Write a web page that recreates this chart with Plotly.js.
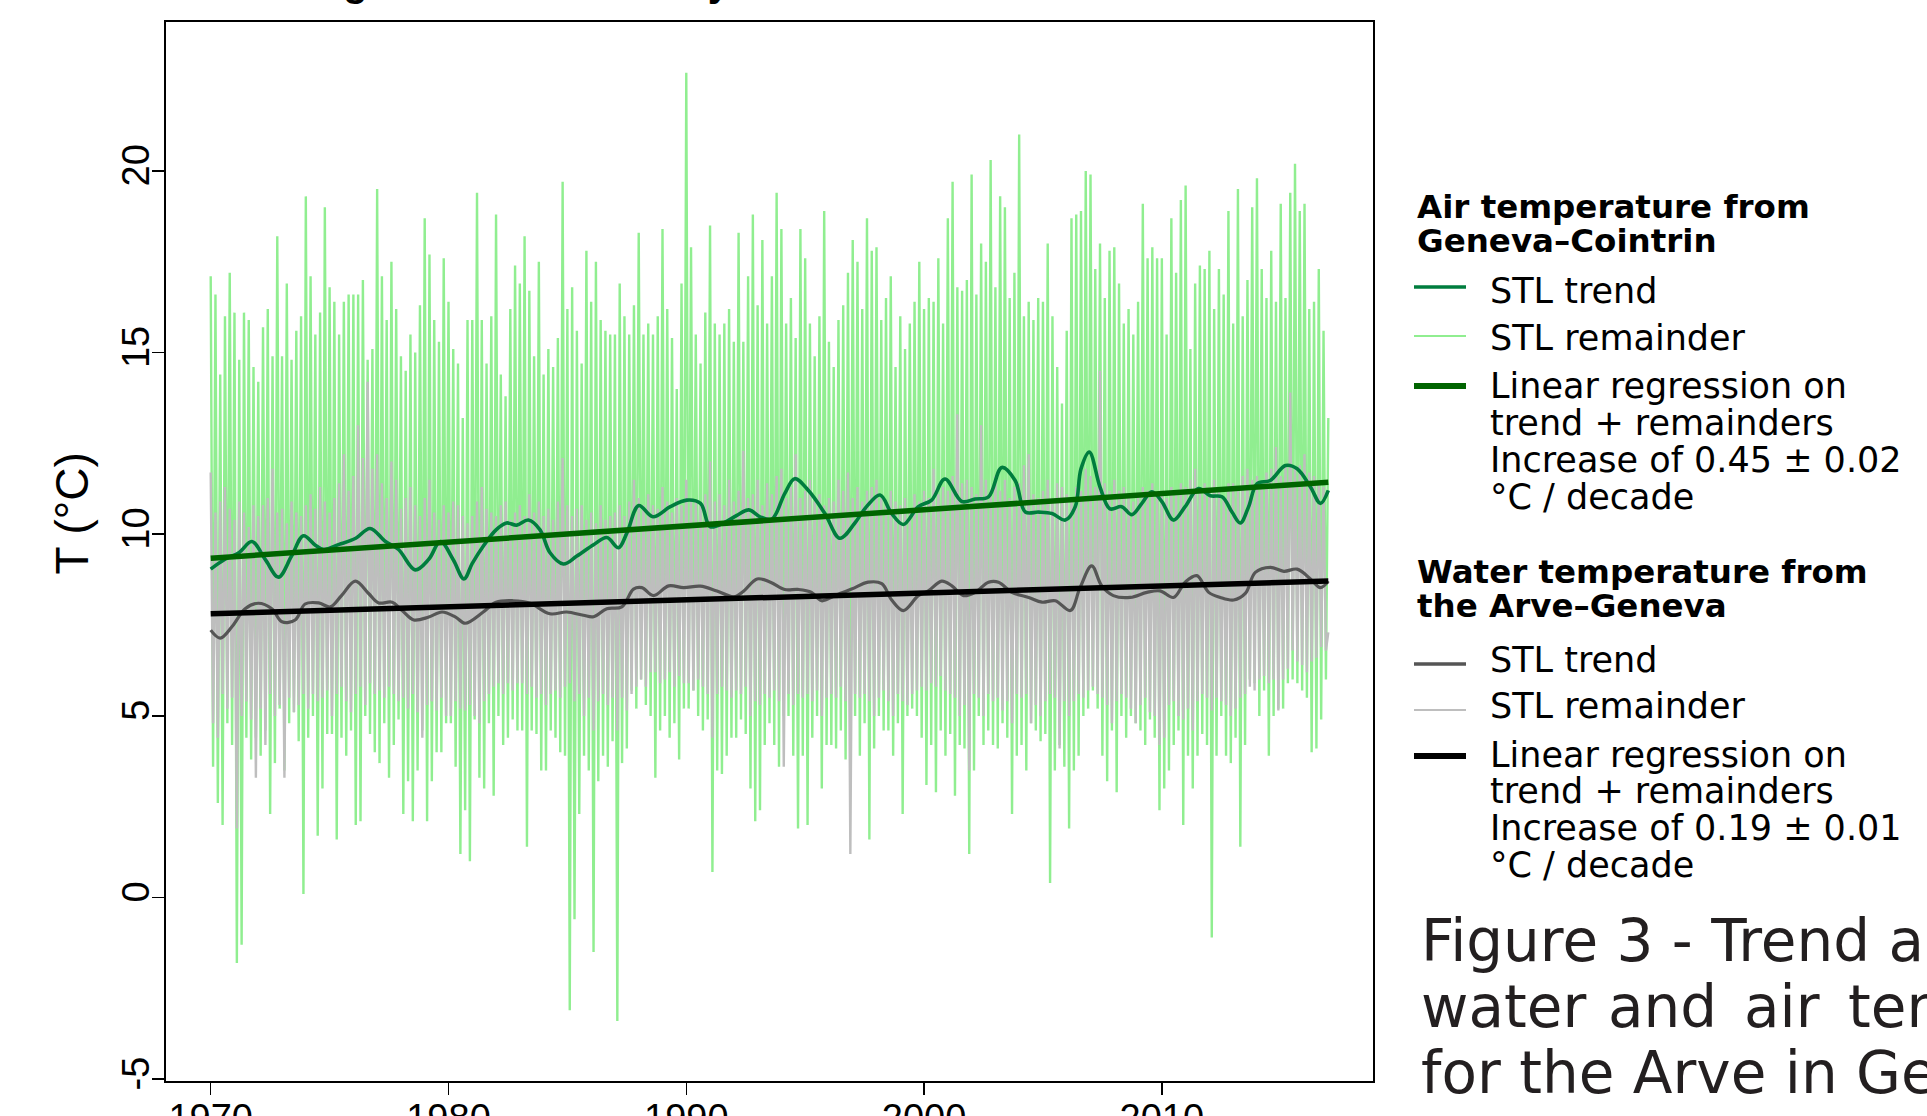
<!DOCTYPE html>
<html><head><meta charset="utf-8">
<script src="https://cdn.plot.ly/plotly-3.0.1.min.js"></script>
<style>html,body{margin:0;padding:0;overflow:hidden;background:#fff}#chart{width:1927px;height:1116px}</style>
</head><body><div id="chart"></div>
<script>
// ---- data ----
const remainderStart = 1970;   // first sample (year)
const remainderStep = 0.1;     // years between samples
const airRemainder = [
17.1,3.6,16.6,2.6,14.4,2.0,16.0,4.8,17.2,4.2,
16.1,-1.8,14.8,-1.3,16.1,4.4,15.9,3.8,14.6,4.4,
14.2,3.9,15.7,4.6,16.2,2.3,14.9,3.7,18.2,5.2,
14.9,3.5,16.9,4.8,14.8,5.1,15.6,4.3,16.0,0.1,
19.3,4.4,17.1,5.0,15.5,1.7,16.1,3.0,19.0,4.5,
16.8,4.5,16.4,1.6,15.5,4.4,16.4,3.9,16.6,4.6,
16.6,2.0,16.6,2.1,17.0,5.0,14.8,4.5,15.1,4.0,
19.5,3.7,17.1,4.8,15.9,3.3,17.5,4.2,16.2,4.9,
14.9,2.3,14.5,3.2,15.5,2.1,15.0,3.5,16.3,4.6,
18.7,2.1,17.7,3.2,15.9,4.0,15.3,4.0,17.6,4.8,
16.4,4.8,15.1,3.6,14.7,1.2,13.2,2.4,15.9,1.0,
15.9,4.9,19.4,3.3,15.9,3.0,14.7,4.8,16.0,2.8,
18.8,5.0,14.4,4.2,13.8,4.4,16.2,4.9,17.4,4.6,
16.9,4.6,18.2,1.4,16.7,4.6,14.9,4.5,17.5,3.5,
14.4,3.5,15.1,4.6,14.6,4.4,15.4,4.0,19.7,3.9,
16.2,-3.1,16.8,-0.6,15.6,2.3,14.7,3.9,17.8,3.5,
16.4,-1.5,17.5,3.2,15.9,3.9,15.6,3.6,15.5,4.3,
15.5,-3.4,16.9,3.7,16.0,4.1,15.5,5.7,16.3,5.2,
18.3,6.0,15.5,5.3,15.8,5.0,15.5,3.3,16.0,4.6,
18.4,5.0,16.2,4.4,15.4,4.8,14.0,3.8,16.9,5.2,
22.7,5.2,17.9,5.7,15.5,5.0,14.7,4.6,16.1,4.9,
18.5,0.7,15.8,3.5,15.5,3.4,15.8,3.9,16.2,4.4,
15.3,4.4,18.3,4.9,15.3,4.5,17.1,3.0,18.8,2.1,
16.3,2.4,18.1,4.2,15.8,4.8,17.1,4.2,19.4,3.6,
18.4,5.0,15.8,5.0,16.5,3.9,15.4,1.9,18.4,3.9,
17.6,2.0,15.8,4.4,14.9,5.0,16.0,3.0,18.9,4.2,
15.3,4.2,14.6,4.1,15.9,4.6,16.3,3.8,17.2,4.0,
18.1,5.0,17.5,3.9,16.2,4.8,18.7,1.6,17.8,4.1,
17.9,5.0,15.9,4.6,16.5,4.6,17.1,3.9,14.6,4.8,
16.0,2.3,15.1,5.0,15.8,5.2,16.4,5.0,17.5,4.4,
16.2,3.1,16.5,4.2,16.4,2.9,17.6,4.6,15.8,3.9,
18.7,4.5,19.7,2.8,16.8,4.2,16.7,4.1,17.0,1.2,
19.9,3.5,16.6,5.0,18.0,4.2,17.5,4.6,20.3,4.2,
16.8,4.1,19.3,4.8,19.0,4.4,16.5,2.3,17.2,3.9,
21.0,4.2,16.0,3.5,16.4,4.8,15.9,4.6,16.5,4.3,
16.4,4.5,18.0,0.4,16.0,3.5,14.6,4.2,13.6,3.6,
15.6,1.9,18.7,3.5,18.8,3.9,18.9,5.0,20.0,5.2,
19.9,5.7,17.3,5.2,18.0,3.9,16.5,3.2,17.8,4.6,
17.9,2.9,16.9,5.0,15.8,4.4,16.2,5.0,15.5,4.8,
16.4,4.6,19.1,4.2,17.6,4.9,17.9,4.4,17.6,2.4,
17.6,3.0,15.5,3.5,18.7,4.2,17.2,4.6,19.2,2.0,
19.6,3.9,15.1,3.0,16.9,3.9,17.4,4.5,17.3,4.2,
17.8,-1.1,16.2,3.9,17.3,5.0,16.6,3.9,18.9,3.7,
15.8,4.4,19.5,1.4,16.0,4.2,17.0,6.0,19.0,5.9,
19.8,5.0,17.3,5.7,16.5,3.9,17.8,5.0,16.4,5.2,
19.1,5.2,16.5,5.9,19.4,6.0,20.2,5.9,18.9,5.7,
19.1,5.5,16.2,4.0,16.4,4.1,17.3,4.9,15.6,6.0,
13.2];
const waterRemainder = [
11.7,4.8,10.6,4.4,10.9,5.6,11.3,5.2,10.7,5.5,
10.4,1.9,10.9,5.0,10.6,5.4,10.2,4.9,10.8,3.3,
10.5,5.2,10.8,4.2,11.0,5.6,11.8,5.0,10.6,5.3,
10.7,3.3,10.3,5.5,10.9,5.1,10.6,5.3,10.5,5.6,
10.8,5.2,11.1,5.6,10.7,5.4,11.3,5.5,10.9,5.7,
10.6,5.0,11.0,5.6,11.4,5.8,12.2,5.4,11.2,5.1,
11.6,5.6,13.0,5.8,12.1,5.3,14.2,5.9,11.8,5.6,
12.2,5.7,11.4,5.5,11.0,5.8,12.0,5.6,11.5,5.4,
10.7,5.5,11.0,5.2,11.3,5.6,10.8,5.1,10.5,4.4,
11.0,5.3,11.5,5.4,10.6,5.15,10.4,5.5,10.8,5.0,
10.6,5.0,10.9,5.4,10.8,5.2,10.5,5.15,10.3,5.3,
10.5,5.0,10.9,4.8,11.3,5.4,10.7,5.6,10.6,5.8,
10.5,5.9,10.8,5.6,10.9,5.9,10.4,5.7,10.6,5.9,
10.8,5.9,10.5,5.6,11.1,5.8,10.6,5.5,10.9,5.6,
10.5,5.3,10.7,5.6,10.4,5.7,10.9,5.5,12.1,5.8,
10.8,5.9,10.5,5.4,10.7,5.6,10.8,5.0,10.4,5.5,
10.6,4.6,10.3,5.4,10.8,5.6,10.4,5.3,10.5,5.5,
10.6,4.6,10.8,5.5,10.5,5.15,10.9,5.6,11.5,5.8,
11.0,6.0,10.8,5.8,11.1,6.2,10.8,6.2,10.7,5.9,
11.3,6.0,10.9,6.2,10.6,5.8,11.0,6.1,10.8,5.9,
11.5,5.9,11.0,5.7,10.9,6.0,10.8,5.8,11.1,5.6,
12.0,4.4,10.9,5.6,11.1,5.8,10.8,5.7,11.5,5.5,
10.9,5.7,11.2,5.6,12.3,5.8,11.0,5.0,11.1,5.4,
11.5,5.3,10.8,5.6,11.4,5.5,11.1,5.7,11.6,5.4,
11.8,3.6,11.0,5.6,11.3,5.3,12.2,5.6,11.0,5.5,
11.2,5.6,11.5,5.4,10.9,5.7,11.1,5.0,10.8,5.5,
11.0,5.6,10.9,5.5,11.5,5.8,11.2,5.4,11.7,1.2,
11.0,5.6,11.3,5.5,10.9,5.6,11.2,5.4,11.3,5.0,
11.5,5.5,11.0,5.7,10.8,5.4,11.2,5.0,10.9,5.6,
10.8,5.4,11.0,5.3,10.6,5.6,11.1,5.7,10.9,5.8,
11.2,5.7,11.0,5.9,11.8,5.8,11.1,6.1,11.3,5.7,
11.2,5.6,11.6,5.5,13.3,5.0,11.4,5.3,11.5,3.5,
11.3,5.6,11.1,5.5,13.0,5.0,11.5,5.6,11.2,5.4,
11.6,5.5,11.2,5.15,11.5,5.4,11.0,4.8,11.3,5.6,
11.4,5.5,11.9,5.6,12.2,4.8,11.1,5.3,11.0,5.0,
11.2,5.4,11.5,5.6,11.0,5.5,11.4,4.1,11.3,5.4,
11.1,5.0,11.0,5.4,11.3,5.6,11.2,5.5,11.8,5.7,
11.6,5.8,11.3,5.6,14.5,5.5,11.4,5.3,11.2,4.8,
11.5,5.4,11.2,5.6,11.3,5.5,11.0,5.2,10.9,4.8,
11.0,5.3,11.3,5.5,11.2,5.1,11.4,5.0,11.1,4.2,
11.2,4.4,11.0,5.3,11.3,5.4,11.1,5.0,11.4,4.9,
11.3,5.2,11.5,4.6,11.8,5.4,11.2,5.6,11.4,5.5,
11.3,5.15,11.5,5.5,11.2,5.4,11.0,5.3,11.4,5.0,
11.4,5.2,11.2,5.5,11.6,5.6,11.8,5.8,11.5,5.7,
11.6,6.0,11.4,6.1,11.7,5.9,11.8,6.0,12.4,5.15,
11.6,6.0,11.9,6.3,13.9,6.8,11.8,6.5,11.9,6.4,
12.2,6.2,11.7,6.5,11.6,6.6,11.5,6.9,11.3,6.8,
7.3];
const airTrendYears = [1970.0,1970.6,1971.2,1971.73,1972.3,1972.85,1973.4,1973.9,1974.4,1974.75,1975.4,1976.1,1976.7,1977.35,1977.9,1978.6,1979.17,1979.66,1980.2,1980.65,1981.0,1981.46,1982.0,1982.44,1982.87,1983.36,1983.85,1984.27,1984.83,1985.4,1986.1,1986.66,1987.15,1987.5,1988.0,1988.6,1989.33,1990.03,1990.6,1991.0,1991.57,1992.13,1992.63,1993.1,1993.6,1994.14,1994.56,1995.13,1995.83,1996.46,1997.09,1997.58,1998.15,1998.64,1999.13,1999.76,2000.32,2000.88,2001.59,2002.15,2002.71,2003.27,2003.83,2004.26,2004.82,2005.38,2005.94,2006.36,2006.6,2006.95,2007.4,2007.82,2008.31,2008.74,2009.16,2009.58,2010.0,2010.49,2010.98,2011.54,2012.04,2012.53,2012.95,2013.3,2013.65,2014.0,2014.56,2015.2,2015.69,2016.25,2016.67,2017.0];
const airTrend = [9.04,9.31,9.50,9.80,9.30,8.82,9.40,9.96,9.70,9.58,9.72,9.89,10.16,9.80,9.58,9.02,9.31,9.80,9.30,8.77,9.20,9.67,10.12,10.31,10.25,10.39,10.12,9.49,9.18,9.40,9.71,9.91,9.63,10.03,10.79,10.48,10.76,10.94,10.85,10.21,10.31,10.52,10.67,10.48,10.42,11.12,11.53,11.21,10.57,9.89,10.31,10.76,11.08,10.57,10.27,10.76,10.94,11.52,10.90,10.97,11.03,11.84,11.48,10.61,10.61,10.57,10.39,10.76,11.80,12.26,11.30,10.70,10.76,10.54,10.85,11.17,10.90,10.39,10.76,11.26,11.06,11.03,10.61,10.31,10.76,11.39,11.48,11.89,11.80,11.30,10.85,11.21];
const waterTrendYears = [1970.0,1970.4,1970.9,1971.45,1972.0,1972.57,1973.0,1973.55,1973.97,1974.54,1975.03,1975.5,1976.08,1976.64,1977.06,1977.63,1978.05,1978.54,1979.17,1979.73,1980.3,1980.7,1981.46,1982.0,1982.72,1983.43,1984.27,1984.97,1985.67,1986.1,1986.66,1987.29,1987.78,1988.13,1988.62,1989.26,1989.89,1990.59,1991.29,1992.0,1992.42,1992.98,1993.54,1994.14,1994.7,1995.27,1995.69,1996.25,1996.95,1997.65,1998.22,1998.64,1999.13,1999.76,2000.18,2000.74,2001.17,2001.66,2002.15,2002.71,2003.13,2003.69,2004.4,2004.96,2005.52,2006.15,2006.56,2007.05,2007.47,2007.96,2008.67,2009.37,2009.93,2010.49,2010.98,2011.47,2011.97,2012.46,2013.02,2013.51,2013.93,2014.56,2015.13,2015.69,2016.25,2016.67,2017.0];
const waterTrend = [7.36,7.14,7.46,7.95,8.10,7.95,7.59,7.64,8.08,8.11,8.00,8.31,8.71,8.37,8.11,8.13,7.90,7.64,7.72,7.86,7.72,7.55,7.86,8.13,8.17,8.10,7.81,7.86,7.77,7.73,7.95,8.00,8.49,8.53,8.31,8.58,8.53,8.57,8.44,8.28,8.44,8.77,8.68,8.48,8.48,8.40,8.17,8.31,8.49,8.68,8.64,8.19,7.90,8.31,8.44,8.71,8.58,8.31,8.40,8.68,8.68,8.40,8.26,8.13,8.17,7.90,8.53,9.13,8.58,8.31,8.26,8.40,8.44,8.26,8.68,8.86,8.40,8.26,8.19,8.37,8.95,9.09,8.98,9.04,8.77,8.53,8.71];
const regressionYears = [1970, 2017];
const airRegression = [9.34, 11.43];
const waterRegression = [7.81, 8.71];
const xTickYears = [1970, 1980, 1990, 2000, 2010];
const yTickValues = [-5, 0, 5, 10, 15, 20];

// ---- layout helpers (page pixels -> paper) ----
const L = 166, T = 22, R = 1373, B = 1081;
const px = x => (x - L) / (R - L);
const py = y => (B - y) / (B - T);
const LEG = 'DejaVu Sans, sans-serif';
const AX = 'Liberation Sans, Arial, sans-serif';

const remX = airRemainder.map((_, i) => remainderStart + i * remainderStep);
const remXw = waterRemainder.map((_, i) => remainderStart + i * remainderStep);

const C = {
  airRem: '#90EE90', airTrend: '#007d3e', airReg: '#006400',
  watRem: '#BEBEBE', watTrend: '#555555', watReg: '#000000'
};

const traces = [
  {x: remX, y: airRemainder, mode: 'lines', line: {color: C.airRem, width: 2.4}},
  {x: remXw, y: waterRemainder, mode: 'lines', line: {color: C.watRem, width: 2.4}},
  {x: airTrendYears, y: airTrend, mode: 'lines', line: {color: C.airTrend, width: 3.6, shape: 'spline', smoothing: 1}},
  {x: waterTrendYears, y: waterTrend, mode: 'lines', line: {color: C.watTrend, width: 3.2, shape: 'spline', smoothing: 1}},
  {x: regressionYears, y: airRegression, mode: 'lines', line: {color: C.airReg, width: 5.5}},
  {x: regressionYears, y: waterRegression, mode: 'lines', line: {color: C.watReg, width: 5.5}}
];

function txt(text, xpx, baseline, size, opts) {
  opts = opts || {};
  return {
    text: text, xref: 'paper', yref: 'paper',
    x: px(xpx), y: py(baseline - 0.35 * size),
    xanchor: opts.xanchor || 'left', yanchor: 'middle', showarrow: false,
    font: {family: opts.family || LEG, size: size, color: opts.color || '#000'}
  };
}
function legLine(y, color, width) {
  return {type: 'line', xref: 'paper', yref: 'paper', x0: px(1414), x1: px(1466), y0: py(y), y1: py(y),
    line: {color: color, width: width}};
}

const CAP = '#231f20';
const annotations = [
  // heading above the chart (cut by page top: only descenders show)
  txt('<b>Long-term trend of daily air and water in Geneva</b>', 268, -4, 40, {family: AX}),
  // y axis title
  {text: 'T (°C)', xref: 'paper', yref: 'paper', x: px(71.5), y: py(514), xanchor: 'center', yanchor: 'middle',
   textangle: -90, showarrow: false, font: {family: AX, size: 46, color: '#000'}},
  // legend: air
  txt('<b>Air temperature from</b>', 1415, 218, 32.5),
  txt('<b>Geneva–Cointrin</b>', 1415, 252, 32.5),
  txt('STL trend', 1488, 303, 35),
  txt('STL remainder', 1488, 350, 35),
  txt('Linear regression on', 1488, 398, 35),
  txt('trend + remainders', 1488, 435, 35),
  txt('Increase of 0.45 ± 0.02', 1488, 472, 35),
  txt('°C / decade', 1488, 509, 35),
  // legend: water
  txt('<b>Water temperature from</b>', 1415, 583, 32.5),
  txt('<b>the Arve–Geneva</b>', 1415, 617, 32.5),
  txt('STL trend', 1488, 672, 35),
  txt('STL remainder', 1488, 718, 35),
  txt('Linear regression on', 1488, 767, 35),
  txt('trend + remainders', 1488, 803, 35),
  txt('Increase of 0.19 ± 0.01', 1488, 840, 35),
  txt('°C / decade', 1488, 877, 35),
  // caption (cut by page edge)
  txt('Figure 3 - Trend analysis of', 1419, 961, 58, {color: CAP}),
  txt('water', 1419, 1027, 58, {color: CAP}),
  txt('and', 1606, 1027, 58, {color: CAP}),
  txt('air', 1742, 1027, 58, {color: CAP}),
  txt('temperatures', 1846, 1027, 58, {color: CAP}),
  txt('for the Arve in Geneva', 1419, 1093, 58, {color: CAP})
];

const shapes = [
  legLine(287, C.airTrend, 3.6),
  legLine(336, C.airRem, 2),
  legLine(386, C.airReg, 6),
  legLine(664, C.watTrend, 3.4),
  legLine(710, C.watRem, 2),
  legLine(756, C.watReg, 6)
];

const layout = {
  width: 1927, height: 1116,
  margin: {l: L, r: 1927 - R, t: T, b: 1116 - B, pad: 0},
  paper_bgcolor: '#fff', plot_bgcolor: '#fff',
  showlegend: false,
  xaxis: {range: [1968.12, 2018.88], tickvals: xTickYears, ticktext: xTickYears.map(String),
    ticks: 'outside', ticklen: 12, tickwidth: 1.5, tickcolor: '#000', ticklabelstandoff: -10,
    showline: true, mirror: true, linecolor: '#000', linewidth: 2,
    showgrid: false, zeroline: false, tickfont: {family: AX, size: 38, color: '#000'}},
  yaxis: {range: [-5.05, 24.1], tickvals: yTickValues, ticktext: yTickValues.map(String),
    ticks: 'outside', ticklen: 12, tickwidth: 1.5, tickcolor: '#000', tickangle: -90, ticklabelstandoff: -12,
    showline: true, mirror: true, linecolor: '#000', linewidth: 2,
    showgrid: false, zeroline: false, tickfont: {family: AX, size: 38, color: '#000'}},
  annotations: annotations,
  shapes: shapes
};

Plotly.newPlot('chart', traces, layout, {staticPlot: true, displayModeBar: false});
</script>
</body></html>
